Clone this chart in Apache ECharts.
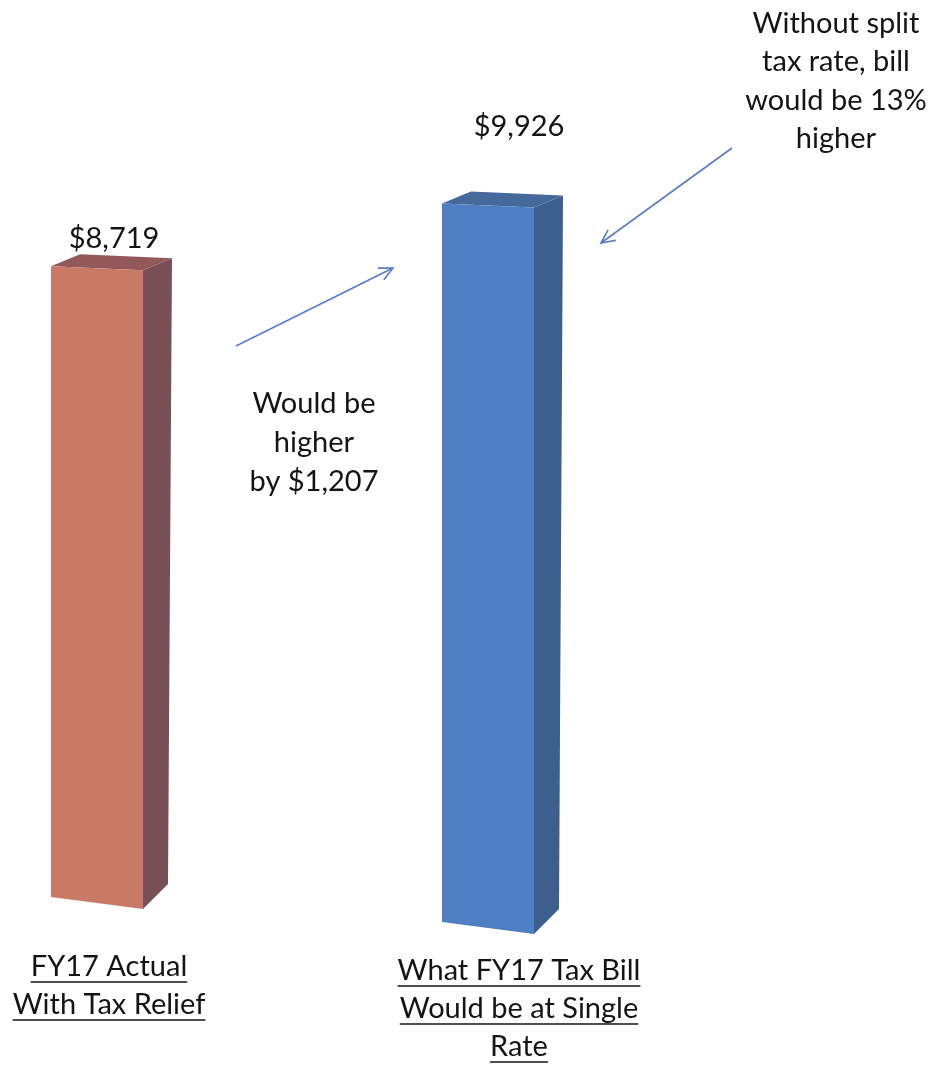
<!DOCTYPE html>
<html>
<head>
<meta charset="utf-8">
<script src="https://cdn.jsdelivr.net/npm/echarts@6/dist/echarts.min.js"></script>
<style>
  html, body { margin: 0; padding: 0; background: #ffffff; }
  #chart { width: 939px; height: 1065px; }
</style>
</head>
<body>
<div id="chart"></div>
<script>
// ---- data ----
const categories = ['FY17 Actual\nWith Tax Relief', 'What FY17 Tax Bill\nWould be at Single\nRate'];
const values = [8719, 9926];
const diffNote = ['Would be', 'higher', 'by '];
const pctNote = ['Without split', 'tax rate, bill', 'would be 13%', 'higher'];

// ---- styles ----
const FONT = 'Lato, "Open Sans", sans-serif';
const FS = 29;
const TEXT = '#141414';
const faceColors = [
  { front: '#c97a66', side: '#7a5058', top: '#93585a' },
  { front: '#4f7fc3', side: '#3d5f8e', top: '#45699b' }
];
const HALF_W = 46;
const DEPTH_TOP = [29, -12];
const DEPTH_BOT = [25, -25];
const TILT = 0.064;
const valueLabelOffset = [[17, -30], [31, -79]];
const catLabelOffset = [[12, 64], [31, 68]];
const CAT_LINE_H = 38;

const fmt = n => '$' + n.toLocaleString('en-US');

const measureCtx = document.createElement('canvas').getContext('2d');
function textWidth(t) {
  measureCtx.font = FS + 'px ' + FONT;
  return measureCtx.measureText(t).width;
}

function renderItem(params, api) {
  const idx = params.dataIndex;
  const v = api.value(1);
  const c0 = api.coord([idx, 0]);
  const c1 = api.coord([idx, v]);
  const shift = TILT * (c0[0] - params.coordSys.x);
  const cx = c0[0];
  const yb = c0[1] + shift;
  const yt = c1[1] + shift;
  const col = faceColors[idx];
  const TL = [cx - HALF_W, yt - 2], TR = [cx + HALF_W, yt + 2];
  const BR = [cx + HALF_W, yb + 6], BL = [cx - HALF_W, yb - 6];
  const add = (p, d) => [p[0] + d[0], p[1] + d[1]];
  const children = [
    { type: 'polygon', shape: { points: [TR, add(TR, DEPTH_TOP), add(BR, DEPTH_BOT), BR] },
      style: { fill: col.side } },
    { type: 'polygon', shape: { points: [TL, TR, add(TR, DEPTH_TOP), add(TL, DEPTH_TOP)] },
      style: { fill: col.top } },
    { type: 'polygon', shape: { points: [TL, TR, BR, BL] },
      style: { fill: col.front } },
    { type: 'text', x: cx + valueLabelOffset[idx][0], y: yt + valueLabelOffset[idx][1],
      style: { text: fmt(v), fill: TEXT, font: FS + 'px ' + FONT, align: 'center', verticalAlign: 'middle' } }
  ];
  const lines = categories[idx].split('\n');
  const lx = cx + catLabelOffset[idx][0];
  const ly0 = c0[1] + catLabelOffset[idx][1];
  lines.forEach((ln, i) => {
    const y = ly0 + i * CAT_LINE_H;
    const w = textWidth(ln);
    children.push({ type: 'text', x: lx, y: y,
      style: { text: ln, fill: TEXT, font: FS + 'px ' + FONT, align: 'center', verticalAlign: 'middle' } });
    children.push({ type: 'line', shape: { x1: lx - w / 2, y1: y + 15, x2: lx + w / 2, y2: y + 15 },
      style: { stroke: TEXT, lineWidth: 1.6 } });
  });
  return { type: 'group', children: children };
}

const chart = echarts.init(document.getElementById('chart'), null, { renderer: 'canvas' });
const diffText = diffNote.slice(0, 2).concat([diffNote[2] + fmt(values[1] - values[0])]).join('\n');

function arrow(x1, y1, x2, y2) {
  const a = Math.atan2(y2 - y1, x2 - x1), L = 15, s = 0.45;
  return [
    { type: 'line', shape: { x1, y1, x2, y2 }, style: { stroke: '#5b7cc4', lineWidth: 1.6 } },
    { type: 'polyline', shape: { points: [
      [x2 - L * Math.cos(a - s), y2 - L * Math.sin(a - s)], [x2, y2],
      [x2 - L * Math.cos(a + s), y2 - L * Math.sin(a + s)] ] },
      style: { stroke: '#5b7cc4', lineWidth: 1.6, fill: null } }
  ];
}

chart.setOption({
  backgroundColor: '#ffffff',
  animation: false,
  grid: { left: 97, right: 451, top: 175, bottom: 162 },
  xAxis: { type: 'category', data: categories, boundaryGap: false, show: false },
  yAxis: { type: 'value', min: 0, max: 10000, show: false },
  series: [{
    type: 'custom',
    renderItem: renderItem,
    data: values.map((v, i) => [i, v]),
    clip: false
  }],
  graphic: [
    { type: 'text', x: 314, y: 384, style: { text: diffText, fill: TEXT, font: FS + 'px ' + FONT,
      align: 'center', verticalAlign: 'top', lineHeight: 39 } },
    { type: 'text', x: 836, y: 4, style: { text: pctNote.join('\n'), fill: TEXT, font: FS + 'px ' + FONT,
      align: 'center', verticalAlign: 'top', lineHeight: 38.5 } }
  ].concat(arrow(236, 346, 393, 268)).concat(arrow(732, 148, 601, 243))
});
</script>
</body>
</html>
